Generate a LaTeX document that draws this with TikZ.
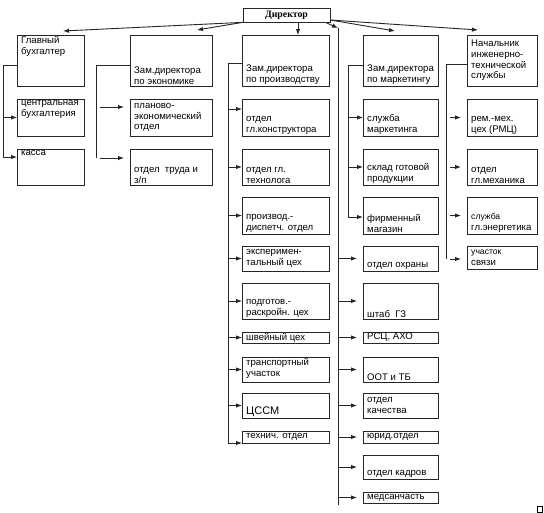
\documentclass[tikz,border=0pt]{standalone}
\usepackage{fontspec}
\setmainfont{Liberation Sans}
\newfontfamily\dirfont{Liberation Serif}
\usetikzlibrary{arrows.meta}
\newcommand\orgfont{\fontsize{9.6}{10.7}\selectfont}
\newcommand\smallorg{\fontsize{8.6}{11.5}\selectfont}
\newcommand\bigorg{\fontsize{11}{12}\selectfont}

\begin{document}
\begin{tikzpicture}[x=1pt, y=-1pt, >={Latex[length=6pt,width=4.5pt]},
  unit/.style 2 args={draw=black!85, line width=1pt, minimum width=#1, minimum height=#2, inner sep=0pt, outer sep=0pt},
  lab/.style={font=\orgfont, align=left, inner xsep=4pt, inner ysep=1.5pt},
  tt/.style={label={[lab, anchor=north west]north west:#1}},
  tb/.style={label={[lab, anchor=south west]south west:#1}},
  tm/.style={label={[lab, anchor=west]west:#1}},
  line/.style={line width=0.9pt, draw=black!85},
  arr/.style={->, line width=0.9pt, draw=black!85},
  gap/.style={shorten <=4pt, shorten >=6pt}
]
\useasboundingbox (0,0) rectangle (544,512);
% director
\node[draw=black!85, line width=0.7pt, minimum width=87, minimum height=14, inner sep=0pt,
  font=\fontsize{9.8}{10}\selectfont\dirfont\bfseries] (dir) at (286.5,15) {Директор};
% accounting
\node[unit={67}{51}, tt={Главный\\бухгалтер}] (gb) at (50.5,60.5) {};
\node[unit={67}{37}, tt={центральная\\бухгалтерия}] (cb) at (50.5,117.5) {};
\node[unit={67}{36}, tt={касса}] (kassa) at (50.5,167) {};
% economics
\node[unit={82}{51}, tb={Зам.директора\\по экономике}] (econ) at (171,60.5) {};
\node[unit={82}{37}, tm={планово-\\экономический\\отдел}] (plan) at (171,117.5) {};
\node[unit={82}{36}, tb={отдел\ \ труда и\\з/п}] (trud) at (171,167) {};
% production
\node[unit={87}{51}, tb={Зам.директора\\по производству}] (prod) at (285.5,60.5) {};
\node[unit={87}{37}, tb={отдел\\гл.конструктора}] (konstr) at (285.5,117.5) {};
\node[unit={87}{36}, tb={отдел гл.\\технолога}] (tehn) at (285.5,167) {};
\node[unit={87}{37}, tb={производ.-\\диспетч. отдел}] (disp) at (285.5,215.5) {};
\node[unit={87}{25}, tm={эксперимен-\\тальный цех}] (exper) at (285.5,258.5) {};
\node[unit={87}{36}, tb={подготов.-\\раскройн. цех}] (podg) at (285.5,301) {};
\node[unit={87}{11}, tm={швейный цех}] (shv) at (285.5,337.5) {};
\node[unit={87}{25}, tt={транспортный\\участок}] (trans) at (285.5,369.5) {};
\node[unit={87}{25}, tb={\bigorg ЦССМ}] (cssm) at (285.5,405.5) {};
\node[unit={87}{12}, tm={технич. отдел}] (tech) at (285.5,437) {};
% marketing and services
\node[unit={75}{51}, tb={Зам.директора\\по маркетингу}] (mark) at (400.5,60.5) {};
\node[unit={75}{37}, tb={служба\\маркетинга}] (slmark) at (400.5,117.5) {};
\node[unit={75}{36}, tb={склад готовой\\продукции}] (sklad) at (400.5,167) {};
\node[unit={75}{37}, tb={фирменный\\магазин}] (firm) at (400.5,215.5) {};
\node[unit={75}{25}, tb={отдел охраны}] (ohr) at (400.5,258.5) {};
\node[unit={75}{36}, tb={штаб\ \ ГЗ}] (shtab) at (400.5,301) {};
\node[unit={75}{11}, tm={РСЦ, АХО}] (rsc) at (400.5,337.5) {};
\node[unit={75}{25}, tb={ООТ и ТБ}] (oot) at (400.5,369.5) {};
\node[unit={75}{25}, tm={отдел\\качества}] (kach) at (400.5,405.5) {};
\node[unit={75}{12}, tm={юрид.отдел}] (yur) at (400.5,437) {};
\node[unit={75}{24}, tb={отдел кадров}] (kadr) at (400.5,467) {};
\node[unit={75}{11}, tm={медсанчасть}] (med) at (400.5,497.5) {};
% engineering
\node[unit={70}{51}, tm={Начальник\\инженерно-\\технической\\службы}] (nach) at (502,60.5) {};
\node[unit={70}{37}, tb={рем.-мех.\\цех (РМЦ)}] (rmc) at (502,117.5) {};
\node[unit={70}{36}, tb={отдел\\гл.механика}] (meh) at (502,167) {};
\node[unit={70}{37}, tb={\smallorg служба\\гл.энергетика}] (energ) at (502,215.5) {};
\node[unit={70}{23}, tm={\smallorg участок\\связи}] (svyaz) at (502,257.5) {};

% free ends
\coordinate (gbin) at (63,31);
\coordinate (econin) at (197,30);
\coordinate (markin) at (395,31);
\coordinate (nachin) at (478,30);
\coordinate (trunk) at (338,28);
\coordinate (trunkend) at (338,505);
\coordinate (t1) at (3,157);
\coordinate (t2) at (96,158);
\coordinate (t3) at (228,443);
\coordinate (t4) at (348,217);
\coordinate (t5) at (446,259);

% from director
\draw[arr] (dir.south west) -- (gbin);
\draw[arr] (dir.south west) -- (econin);
\draw[arr] ([xshift=11.5pt]dir.south) -- ([xshift=12.5pt]prod.north);
\draw[arr] ([xshift=-5pt]dir.south east) -- (trunk);
\draw[arr] ([yshift=-5pt]dir.east) -- (markin);
\draw[arr] ([yshift=-5pt]dir.east) -- (nachin);
\draw[line] (trunk) -- (trunkend);

% vertical lines
\draw[line] ([yshift=-4.5pt]gb.west) -| (t1);
\draw[line] ([yshift=-4.5pt]econ.west) -| (t2);
\draw[line] ([yshift=-2.5pt]prod.west) -| (t3);
\draw[line] ([yshift=-4.5pt]mark.west) -| (t4);
\draw[line] ([yshift=-3.5pt]nach.west) -| (t5);

% accounting
\draw[arr] (t1 |- cb.west) -- (cb.west);
\draw[arr] (t1) -- ([yshift=10pt]kassa.west);
% economics
\draw[arr, gap] ([yshift=10.5pt]t2 |- plan.west) -- ([yshift=10.5pt]plan.west);
\draw[arr, gap] (t2) -- (t2 -| trud.west);
% production
\draw[arr] ([yshift=8.5pt]t3 |- konstr.west) -- ([yshift=8.5pt]konstr.west);
\foreach \n in {tehn,disp,exper,podg,shv,trans,cssm}
  \draw[arr] (t3 |- \n.west) -- (\n.west);
\draw[arr] (t3) -- (t3 -| tech.west);
% marketing
\foreach \n in {slmark,sklad}
  \draw[arr] (t4 |- \n.west) -- (\n.west);
\draw[arr] (t4) -- (t4 -| firm.west);
\foreach \n in {ohr,shtab,rsc,oot,kach,yur,kadr,med}
  \draw[arr, shorten >=6pt] (trunk |- \n.west) -- (\n.west);
% engineering
\foreach \n in {rmc,meh,energ}
  \draw[arr, gap] (t5 |- \n.west) -- (\n.west);
\draw[arr, gap] (t5) -- (t5 -| svyaz.west);

\draw[line width=0.6pt] (537,506) rectangle (542,512);
\end{tikzpicture}
\end{document}
